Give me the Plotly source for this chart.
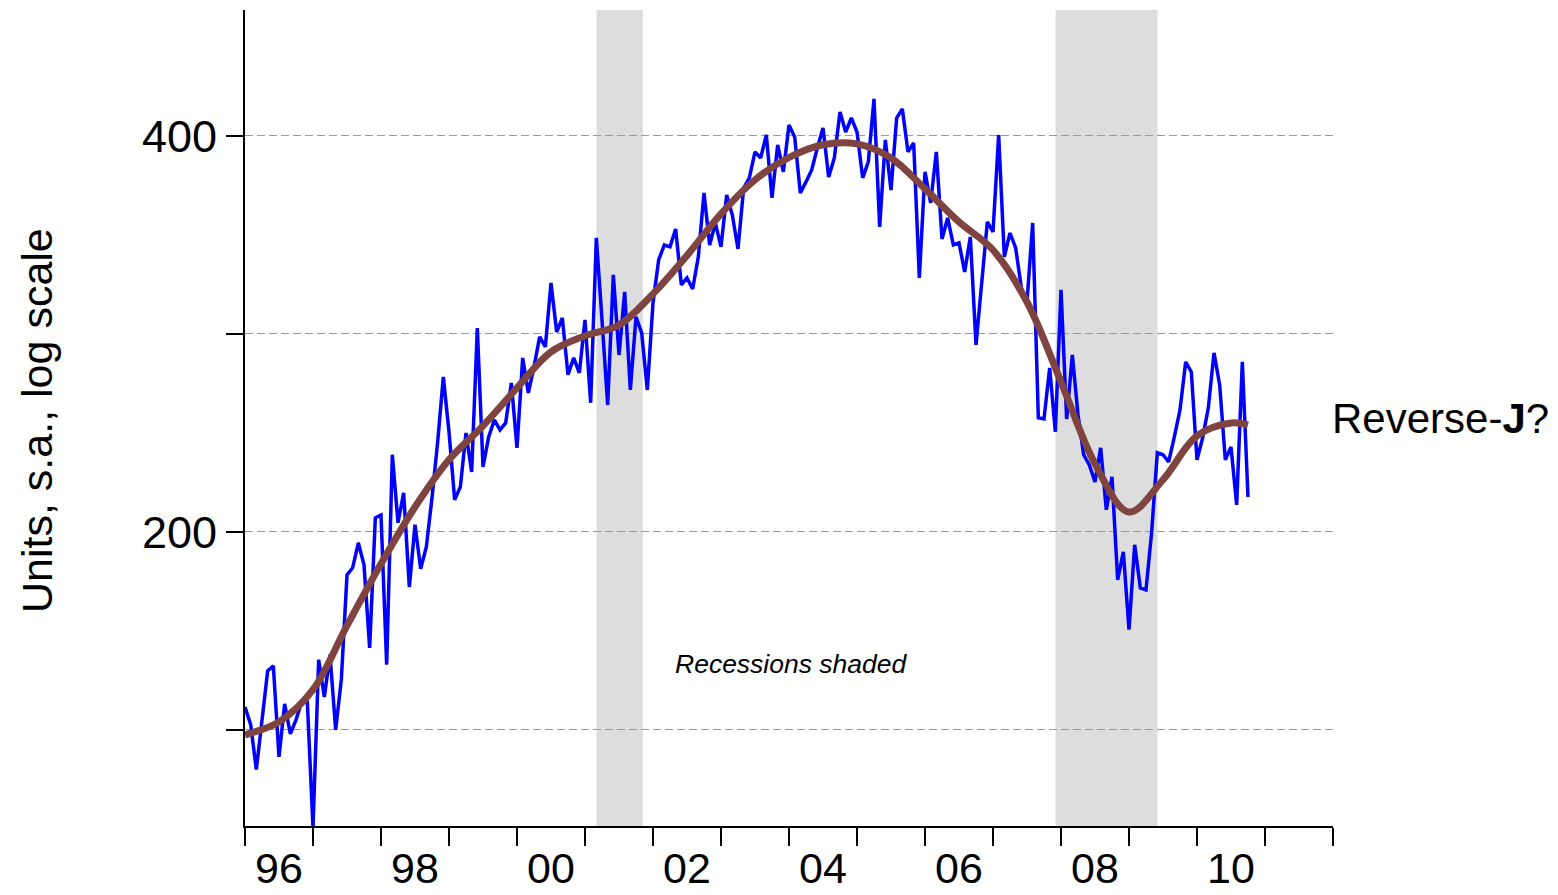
import math
import plotly.graph_objects as go

# Monthly units (s.a.), Jan 1996 - Oct 2010
sales = [
    147.2, 142.7, 131.9, 143.4, 156.8, 158.2, 134.9, 148.0, 140.4, 143.9, 148.5, 148.5,
    119.1, 159.9, 149.8, 161.3, 141.4, 154.4, 185.5, 187.8, 196.2, 188.8, 163.2, 205.0,
    206.0, 158.5, 228.9, 203.2, 214.1, 181.6, 202.5, 187.5, 194.8, 212.3, 234.1, 262.3,
    238.3, 211.5, 216.4, 237.8, 222.1, 285.8, 224.1, 236.2, 243.3, 239.1, 242.0, 259.6,
    231.7, 271.2, 255.1, 267.0, 281.4, 276.5, 309.3, 283.8, 290.9, 263.3, 271.2, 264.2,
    289.9, 250.7, 334.6, 289.9, 249.8, 313.6, 272.6, 304.4, 256.4, 291.4, 283.3, 256.4,
    298.6, 322.0, 330.5, 329.4, 339.9, 308.2, 312.0, 306.0, 323.7, 362.0, 330.5, 343.5,
    329.4, 360.8, 348.3, 328.2, 365.2, 371.7, 389.0, 384.9, 400.7, 358.9, 393.8, 375.6,
    407.8, 399.3, 362.0, 369.1, 376.9, 391.7, 405.6, 372.3, 384.9, 417.2, 402.8, 412.8,
    402.8, 371.7, 382.2, 426.8, 341.1, 397.2, 363.9, 412.8, 419.4, 389.0, 395.1, 312.0,
    375.6, 355.8, 389.0, 334.0, 346.5, 330.5, 331.7, 315.3, 335.2, 277.5, 309.8, 344.1,
    338.1, 400.7, 323.7, 337.5, 328.8, 306.6, 299.1, 343.5, 244.2, 243.7, 266.5, 238.3,
    305.5, 243.7, 272.6, 245.5, 228.9, 224.9, 218.3, 231.7, 207.9, 220.2, 183.9, 193.1,
    168.5, 195.5, 181.3, 180.7, 200.0, 229.7, 228.9, 226.1, 236.2, 247.6, 269.3, 264.6,
    226.9, 235.8, 248.5, 273.6, 258.7, 226.9, 232.1, 209.7, 269.3, 212.6,
]
start_year = 1996
months = [start_year + i / 12 for i in range(len(sales))]

# Smoothed trend, read at half-year points
trend_years = [1996.0, 1996.5, 1997.0, 1997.5, 1998.0, 1998.5, 1999.0, 1999.5,
               2000.0, 2000.5, 2001.0, 2001.5, 2002.0, 2002.5, 2003.0, 2003.5,
               2004.0, 2004.5, 2005.0, 2005.5, 2006.0, 2006.5, 2007.0, 2007.5,
               2008.0, 2008.5, 2009.0, 2009.5, 2010.0, 2010.5, 2010.75]
trend = [140.2, 143.4, 151.7, 169.7, 189.1, 208.9, 226.9, 240.8,
         257.3, 274.1, 281.9, 287.3, 303.4, 324.5, 349.0, 370.4,
         385.2, 393.9, 394.5, 384.9, 364.6, 344.1, 327.6, 299.1,
         260.1, 225.3, 207.1, 219.1, 236.6, 242.0, 241.2]

# Recessions (decimal years)
recessions = [(2001.17, 2001.85), (2007.92, 2009.42)]

# Axis ticks
x_label_pos = [1996.5, 1998.5, 2000.5, 2002.5, 2004.5, 2006.5, 2008.5, 2010.5]
x_labels = ["96", "98", "00", "02", "04", "06", "08", "10"]
x_year_ticks = list(range(1996, 2013))
y_tick_vals = [141.42, 200, 282.84, 400]
y_tick_text = ["", "200", "", "400"]
y_min, y_max = 119.5, 498.7

FONT = "Liberation Sans, Arial, sans-serif"

fig = go.Figure()
fig.add_trace(go.Scatter(x=months, y=sales, mode="lines",
                         line=dict(color="#0000FF", width=3.5), hoverinfo="skip"))
fig.add_trace(go.Scatter(x=trend_years, y=trend, mode="lines",
                         line=dict(color="#804440", width=7, shape="spline", smoothing=1.0),
                         hoverinfo="skip"))

for r0, r1 in recessions:
    fig.add_shape(type="rect", xref="x", yref="paper", x0=r0, x1=r1, y0=0, y1=1,
                  fillcolor="#DDDDDD", line=dict(width=0), layer="below")

fig.update_layout(
    width=1550, height=887,
    margin=dict(l=237, r=225, t=2, b=69, autoexpand=False),
    paper_bgcolor="white", plot_bgcolor="white",
    showlegend=False, hovermode=False,
    font=dict(family=FONT, color="black"),
    xaxis=dict(
        range=[1996, 2012], showline=True, linecolor="black", linewidth=2,
        showgrid=False, zeroline=False, automargin=False,
        tickmode="array", tickvals=x_label_pos, ticktext=x_labels,
        ticks="outside", ticklen=3, tickcolor="rgba(0,0,0,0)",
        tickfont=dict(size=43, family=FONT, color="black"),
        minor=dict(tickmode="array", tickvals=x_year_ticks, ticks="outside",
                   ticklen=18, tickwidth=2, tickcolor="black", showgrid=False),
    ),
    yaxis=dict(
        type="log", range=[math.log10(y_min), math.log10(y_max)],
        showline=True, linecolor="black", linewidth=2, zeroline=False, automargin=False,
        tickmode="array", tickvals=y_tick_vals, ticktext=y_tick_text,
        ticks="outside", ticklen=17, tickwidth=2, tickcolor="black",
        tickfont=dict(size=45, family=FONT, color="black"),
        showgrid=True, gridcolor="#9A9A9A", gridwidth=1, griddash="8px,4px",
    ),
)

fig.add_annotation(text="Units, s.a., log scale", xref="paper", yref="paper",
                   x=(37 - 245) / 1088, y=(826 - 421) / 816, textangle=-90,
                   showarrow=False, xanchor="center", yanchor="middle",
                   font=dict(size=43, family=FONT, color="black"))
fig.add_annotation(text="<i>Recessions shaded</i>", xref="paper", yref="paper",
                   x=(791 - 245) / 1088, y=(826 - 664) / 816, showarrow=False,
                   xanchor="center", yanchor="middle",
                   font=dict(size=26.5, family=FONT, color="black"))
# shadow of the J
fig.add_annotation(text="<span style='color:rgba(0,0,0,0)'>Reverse-</span><b><span style='color:#B0B0B0'>J</span></b><span style='color:rgba(0,0,0,0)'>?</span>",
                   xref="paper", yref="paper", x=(1330 - 245) / 1088, y=(826 - 418) / 816,
                   xshift=2, yshift=-2, showarrow=False, xanchor="left", yanchor="middle",
                   font=dict(size=42, family=FONT, color="rgba(0,0,0,0)"))
fig.add_annotation(text="Reverse-<b>J</b>?", xref="paper", yref="paper",
                   x=(1330 - 245) / 1088, y=(826 - 418) / 816, showarrow=False,
                   xanchor="left", yanchor="middle",
                   font=dict(size=42, family=FONT, color="black"))

fig.write_html("out.html")
